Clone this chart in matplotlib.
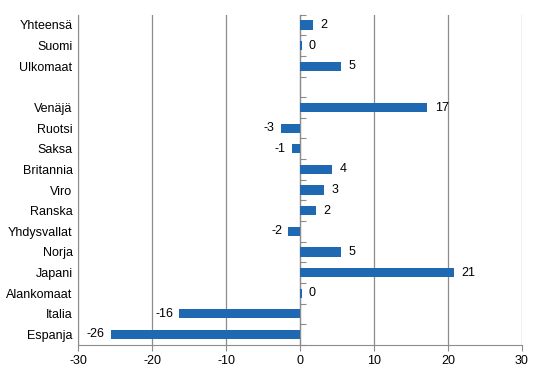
import numpy as np
import matplotlib
matplotlib.use('Agg')
import matplotlib.pyplot as plt

plt.rcParams['font.family'] = ['Liberation Sans', 'DejaVu Sans']

# Categories top to bottom ('' is the empty gap row)
categories = ['Yhteensä', 'Suomi', 'Ulkomaat', '', 'Venäjä', 'Ruotsi', 'Saksa',
              'Britannia', 'Viro', 'Ranska', 'Yhdysvallat', 'Norja', 'Japani',
              'Alankomaat', 'Italia', 'Espanja']
values = [1.7, 0.2, 5.5, None, 17.2, -2.6, -1.1, 4.3, 3.2, 2.1, -1.6, 5.5,
          20.8, 0.2, -16.3, -25.6]
labels = ['2', '0', '5', '', '17', '-3', '-1', '4', '3', '2', '-2', '5',
          '21', '0', '-16', '-26']
xticks = [-30, -20, -10, 0, 10, 20, 30]

BAR = '#1f69b3'
GRID = '#8c8c8c'
FS = 9

fig = plt.figure(figsize=(5.46, 3.76), dpi=100)
ax = fig.add_axes([0.143, 0.083, 0.813, 0.878])

n = len(categories)
ypos = np.arange(n)
for y, v, lab in zip(ypos, values, labels):
    if v is None:
        continue
    ax.barh(y, v, height=0.45, color=BAR, zorder=3)
    if v >= 0:
        ax.text(v + 1.0, y, lab, va='center', ha='left', fontsize=FS, zorder=4)
    else:
        ax.text(v - 0.8, y, lab, va='center', ha='right', fontsize=FS, zorder=4)

ax.set_xlim(-30, 30)
ax.set_ylim(n - 0.5, -0.5)
ax.set_xticks(xticks)
ax.set_xticklabels([str(t) for t in xticks], fontsize=FS)
ax.set_yticks(ypos)
ax.set_yticklabels(categories, fontsize=FS)
ax.tick_params(axis='y', length=0, pad=4)
ax.tick_params(axis='x', length=4, color=GRID, pad=3)

ax.grid(axis='x', color=GRID, linewidth=0.9, zorder=0)
for s in ['top', 'right']:
    ax.spines[s].set_visible(False)
ax.spines['left'].set_color(GRID)
ax.spines['bottom'].set_color(GRID)

# category axis at zero, ticks at category boundaries
ax2 = ax.secondary_yaxis(0.5)
ax2.set_yticks(np.arange(n + 1) - 0.5)
ax2.set_yticklabels([])
ax2.tick_params(axis='y', length=4, color=GRID, direction='out')
ax2.spines['left'].set_color(GRID)
ax2.spines['left'].set_linewidth(1.0)

plt.savefig('out.png', dpi=100)
